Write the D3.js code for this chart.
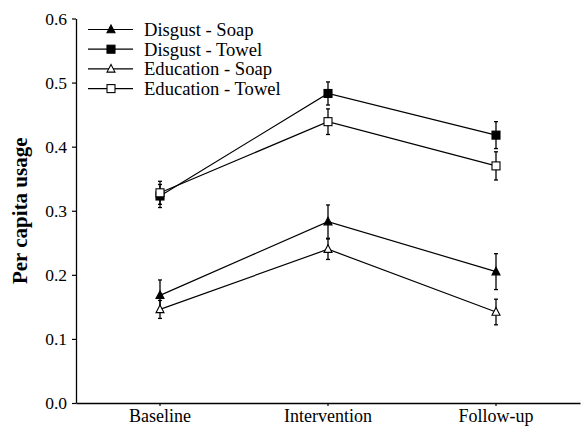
<!DOCTYPE html>
<html>
<head>
<meta charset="utf-8">
<script src="https://cdn.jsdelivr.net/npm/d3@7"></script>
<style>
  body { margin: 0; background: #fff; }
  svg { display: block; }
</style>
</head>
<body>
<svg id="chart" width="581" height="428"></svg>
<script>
const phases = ["Baseline", "Intervention", "Follow-up"];
const seriesNames = ["Disgust - Soap", "Disgust - Towel", "Education - Soap", "Education - Towel"];
const disgustSoap = [0.168, 0.283, 0.205];
const disgustSoapErr = [0.024, 0.026, 0.028];
const disgustTowel = [0.323, 0.483, 0.418];
const disgustTowelErr = [0.018, 0.018, 0.021];
const educationSoap = [0.146, 0.240, 0.142];
const educationSoapErr = [0.014, 0.016, 0.020];
const educationTowel = [0.328, 0.439, 0.370];
const educationTowelErr = [0.018, 0.020, 0.022];
const yTicks = [0.0, 0.1, 0.2, 0.3, 0.4, 0.5, 0.6];

const FONT = "'Times New Roman', 'Liberation Serif', Times, serif";

const series = [
  { name: seriesNames[0], values: disgustSoap, err: disgustSoapErr, shape: "triangle", fill: "#000" },
  { name: seriesNames[1], values: disgustTowel, err: disgustTowelErr, shape: "square", fill: "#000" },
  { name: seriesNames[2], values: educationSoap, err: educationSoapErr, shape: "triangle", fill: "#fff" },
  { name: seriesNames[3], values: educationTowel, err: educationTowelErr, shape: "square", fill: "#fff" }
];

const svg = d3.select("#chart");
const mLeft = 76, mRight = 580, mTop = 18.5, mBottom = 403;

const x = d3.scaleBand().domain(phases).range([mLeft, mRight]);
const y = d3.scaleLinear().domain([0, 0.6]).range([mBottom, mTop]);
const cx = p => x(p) + x.bandwidth() / 2;

// Axes
const yAxis = svg.append("g").attr("transform", `translate(${mLeft},0)`)
  .call(d3.axisLeft(y).tickValues(yTicks).tickFormat(d3.format(".1f")).tickSize(4).tickSizeOuter(0));
yAxis.attr("font-family", FONT);
yAxis.select(".domain").attr("stroke-width", 1.3);
yAxis.selectAll(".tick line").attr("stroke-width", 1.2);
yAxis.selectAll(".tick text").attr("font-size", 17.5).attr("x", -9).style("font-family", FONT);

const xAxis = svg.append("g").attr("transform", `translate(0,${mBottom})`)
  .call(d3.axisBottom(x).tickSize(3).tickSizeOuter(0));
xAxis.attr("font-family", FONT);
xAxis.select(".domain").attr("stroke-width", 1.3);
xAxis.selectAll(".tick line").attr("stroke-width", 1.2);
xAxis.selectAll(".tick text").attr("font-size", 18).attr("y", 6).style("font-family", FONT);

// Y label
svg.append("text")
  .attr("transform", `translate(27,${(mTop + mBottom) / 2}) rotate(-90)`)
  .attr("text-anchor", "middle")
  .style("font-family", FONT)
  .attr("font-size", 21)
  .attr("font-weight", "bold")
  .text("Per capita usage");

const line = d3.line().x((d, i) => cx(phases[i])).y(d => y(d));

function marker(g, shape, fill) {
  if (shape === "square") {
    g.append("rect").attr("x", -4).attr("y", -4).attr("width", 8).attr("height", 8)
      .attr("fill", fill).attr("stroke", "#000").attr("stroke-width", 1.1);
  } else {
    g.append("path").attr("d", "M0,-4.5L4,3.2L-4,3.2Z")
      .attr("fill", fill).attr("stroke", "#000").attr("stroke-width", 1.1);
  }
}

// Lines
series.forEach(s => {
  svg.append("path").datum(s.values).attr("d", line)
    .attr("fill", "none").attr("stroke", "#000").attr("stroke-width", 1.2);
});

// Error bars
series.forEach(s => {
  s.values.forEach((v, i) => {
    const px = cx(phases[i]);
    const g = svg.append("g");
    g.append("line").attr("x1", px).attr("x2", px).attr("y1", y(v + s.err[i])).attr("y2", y(v - s.err[i]))
      .attr("stroke", "#000").attr("stroke-width", 1.3);
    [v + s.err[i], v - s.err[i]].forEach(e => {
      g.append("line").attr("x1", px - 2).attr("x2", px + 2).attr("y1", y(e)).attr("y2", y(e))
        .attr("stroke", "#000").attr("stroke-width", 1.3);
    });
  });
});

// Markers
series.forEach(s => {
  s.values.forEach((v, i) => {
    const g = svg.append("g").attr("transform", `translate(${cx(phases[i])},${y(v)})`);
    marker(g, s.shape, s.fill);
  });
});

// Legend
const legend = svg.append("g");
series.forEach((s, i) => {
  const ly = 29.5 + i * 19.7;
  legend.append("line").attr("x1", 88).attr("x2", 133).attr("y1", ly).attr("y2", ly)
    .attr("stroke", "#000").attr("stroke-width", 1.2);
  const g = legend.append("g").attr("transform", `translate(111,${ly})`);
  marker(g, s.shape, s.fill);
  legend.append("text").attr("x", 144).attr("y", ly).attr("dy", "0.35em")
    .style("font-family", FONT).attr("font-size", 18.6).attr("fill", "#000").text(s.name);
});
</script>
</body>
</html>
